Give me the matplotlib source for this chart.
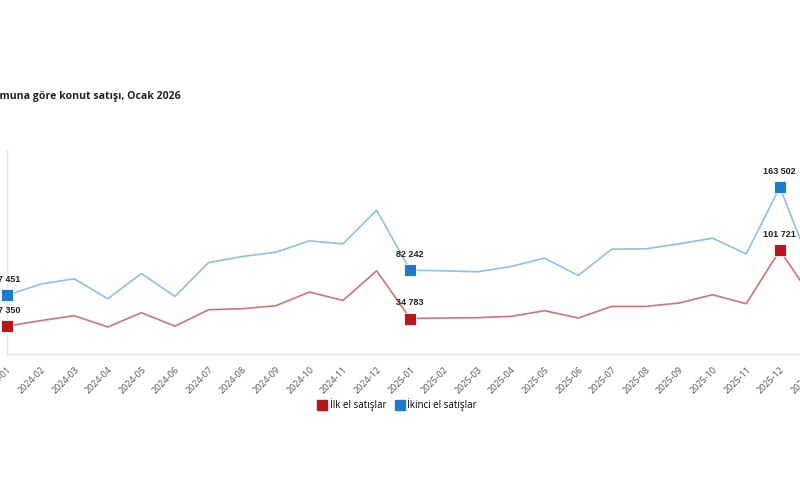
import matplotlib
matplotlib.use('Agg')
import matplotlib.pyplot as plt
from matplotlib.lines import Line2D

# months 2024-01 .. 2026-01
months = [f'{y}-{m:02d}' for y in (2024, 2025) for m in range(1, 13)] + ['2026-01']

first_hand = [27350, 32670, 37560, 26500, 40490, 27290, 43420, 44400, 47340, 60730,
              52520, 81570, 34783, 35310, 35600, 36870, 42450, 35310, 46650, 46650,
              49980, 58090, 49290, 101721, 53000]
second_hand = [57451, 68560, 73740, 54180, 78920, 56430, 89680, 95550, 99850, 110900,
               107970, 140930, 82242, 81570, 80590, 85770, 93990, 76970, 102790, 103080,
               107970, 113550, 98190, 163502, 80000]

# points that carry a marker and a value label
labelled = ['2024-01', '2025-01', '2025-12']

series_names = ['İlk el satışlar', 'İkinci el satışlar']
title = 'Satış durumuna göre konut satışı, Ocak 2026'

line_colors = ['#d27373', '#8cc1e3']
marker_colors = ['#b8171c', '#1f7ccc']


def fmt(v):
    return f'{v:,}'.replace(',', ' ')


fig = plt.figure(figsize=(8, 5), dpi=100)
fig.patch.set_facecolor('white')
# the axes run past both figure edges, as in the cropped reference
ax = fig.add_axes([7 / 800, 1 - 354 / 500, 806.4 / 800, 204 / 500])

x = list(range(len(months)))
for vals, lc, mc in zip([first_hand, second_hand], line_colors, marker_colors):
    ax.plot(x, vals, color=lc, lw=1.2, zorder=2)
    for lab in labelled + ['2026-01']:
        i = months.index(lab)
        ax.plot(i, vals[i], marker='s', ms=8.5, color=mc, mec='white', mew=0.6,
                zorder=3, clip_on=False)
        if lab in labelled:
            ax.annotate(fmt(vals[i]), (i, vals[i]), xytext=(0, 8),
                        textcoords='offset points', ha='center', va='bottom',
                        fontsize=6.5, fontweight='bold', family='Liberation Sans',
                        color='#222222')

ax.set_xlim(0, len(months) - 1)
ax.set_ylim(0, 200000)
ax.set_xticks(x)
ax.set_xticklabels(months, rotation=45, ha='right', rotation_mode='anchor',
                   fontsize=6.5, color='#555555', family='Open Sans')
ax.tick_params(axis='x', length=0, pad=8)
ax.tick_params(axis='y', left=False, labelleft=False)
for s in ['top', 'right']:
    ax.spines[s].set_visible(False)
for s in ['left', 'bottom']:
    ax.spines[s].set_color('#e3e3e3')
    ax.spines[s].set_linewidth(1.0)

fig.text(181 / 800, 1 - 97 / 500, title, ha='right', va='center',
         fontsize=7.6, fontweight='bold', family='Open Sans', color='#222222')

handles = [Line2D([], [], marker='s', ls='', ms=7.5, color=c) for c in marker_colors]
fig.legend(handles, series_names, loc='center', bbox_to_anchor=(397 / 800, 1 - 405 / 500),
           ncol=2, frameon=False, handletextpad=0.3, columnspacing=0.9,
           handlelength=1.0, prop={'family': 'Open Sans', 'size': 7})

fig.savefig('out.png', dpi=100, facecolor='white')
